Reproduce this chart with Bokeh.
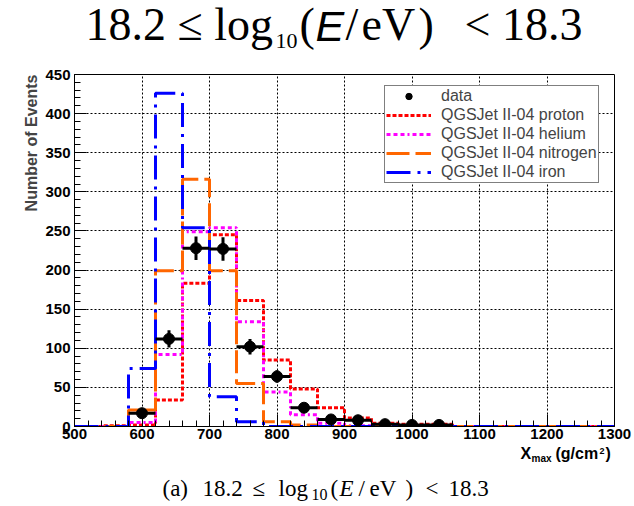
from bokeh.plotting import figure
from bokeh.layouts import column
from bokeh.models import Range1d, SingleIntervalTicker, Label, Legend, LegendItem, Title
from bokeh.embed import file_html
from bokeh.resources import INLINE

# Xmax histograms, 20 bins of 40 g/cm^2 between 500 and 1300
bin_edges = list(range(500, 1301, 40))

proton = [0, 1, 2, 34, 183, 245, 161, 85, 48, 24, 11, 4, 3, 3, 0, 0, 0, 0, 0, 0]
helium = [0, 0, 5, 92, 249, 254, 134, 44, 15, 4, 1, 1, 0, 0, 0, 0, 0, 0, 0, 0]
nitrogen = [0, 0, 21, 199, 316, 199, 55, 6, 2, 0, 0, 0, 0, 0, 0, 0, 0, 0, 0, 0]
iron = [0, 0, 74, 426, 254, 38, 6, 0, 0, 0, 0, 0, 0, 0, 0, 0, 0, 0, 0, 0]

# measured events per bin
data_x = [600, 640, 680, 720, 760, 800, 840, 880, 920, 960, 1000, 1040]
data_y = [17, 112, 228, 227, 102, 64, 24, 9, 8, 3, 2, 2]
data_err = [4, 11, 15, 15, 10, 8, 5, 3, 3, 2, 1, 1]
half_bin = 20

x_ticks = [500, 600, 700, 800, 900, 1000, 1100, 1200, 1300]
y_ticks = [0, 50, 100, 150, 200, 250, 300, 350, 400, 450]

W, H = 634, 506
TOP_H = 62          # heading strip
BOT_H = 60          # x-axis title + caption strip
MAIN_H = H - TOP_H - BOT_H
FRAME_L, FRAME_R, FRAME_T, FRAME_B = 74, 614, 74, 426
RAISE = 0.36        # baseline correction, in em


def text_strip(height):
    # same side borders as the main plot so the frames line up column-wise
    f = figure(width=W, height=height, output_backend="svg", toolbar_location=None,
               x_axis_type=None, y_axis_type=None,
               x_range=Range1d(0, 1), y_range=Range1d(0, 1),
               min_border_left=FRAME_L, min_border_right=W - FRAME_R,
               min_border_top=0, min_border_bottom=0, outline_line_color=None)
    f.background_fill_color = "white"
    f.border_fill_color = "white"
    return f


top = text_strip(TOP_H)
bottom = text_strip(BOT_H)


def put(f, top_px, text, px, py, size, font="Liberation Serif", style="normal"):
    """Place text with its baseline at page pixel (px, py) inside strip f starting at top_px."""
    f.add_layout(Label(x=px - FRAME_L, y=f.height - (py - top_px) + RAISE * size,
                       x_units="screen", y_units="screen",
                       text=text, text_font=font, text_font_style=style,
                       text_font_size=f"{size}px", text_align="left",
                       text_baseline="alphabetic", text_color="black"))


# main plot
p = figure(width=W, height=MAIN_H, output_backend="svg", toolbar_location=None,
           x_range=Range1d(x_ticks[0], x_ticks[-1]), y_range=Range1d(y_ticks[0], y_ticks[-1]),
           min_border_left=FRAME_L, min_border_right=W - FRAME_R,
           min_border_top=FRAME_T - TOP_H, min_border_bottom=TOP_H + MAIN_H - FRAME_B)
p.background_fill_color = "white"
p.border_fill_color = "white"
p.outline_line_color = "black"
p.outline_line_width = 1

p.xaxis.ticker = SingleIntervalTicker(interval=100, num_minor_ticks=5)
p.yaxis.ticker = SingleIntervalTicker(interval=50, num_minor_ticks=5)
for ax in (p.xaxis, p.yaxis):
    ax.axis_line_color = "black"
    ax.major_tick_line_color = "black"
    ax.minor_tick_line_color = "black"
    ax.major_tick_out = 0
    ax.minor_tick_out = 0
    ax.major_tick_in = 12
    ax.minor_tick_in = 6
    ax.major_label_text_font = "Liberation Sans"
    ax.major_label_text_font_style = "bold"
    ax.major_label_text_font_size = "15px"
    ax.major_label_text_color = "black"
p.xaxis.major_label_standoff = 2
p.yaxis.major_label_standoff = 4

for g in (p.xgrid, p.ygrid):
    g.grid_line_color = "black"
    g.grid_line_dash = "2 2"
    g.grid_line_width = 1

# y-axis title, pinned to the top end of the axis
p.add_layout(Title(text="Number of Events", align="right", text_font="Liberation Sans",
                   text_font_style="bold", text_font_size="16px", standoff=5), "left")


# step outlines of the simulated distributions
def step_line(values, color, dash):
    return p.step(x=bin_edges, y=values + [values[-1]], mode="after",
                  line_color=color, line_width=3, line_dash=dash)


r_p = step_line(proton, "#ff0000", "4 2")
r_he = step_line(helium, "#ff00ff", "4 3 4 3 4 3 2 3")
r_n = step_line(nitrogen, "#ff6600", "23 6")
r_fe = step_line(iron, "#0000ff", "24 7 3 7")

# data with error bars
p.segment(x0=[x - half_bin for x in data_x], y0=data_y,
          x1=[x + half_bin for x in data_x], y1=data_y, line_color="black", line_width=3)
p.segment(x0=data_x, y0=[y - e for y, e in zip(data_y, data_err)],
          x1=data_x, y1=[y + e for y, e in zip(data_y, data_err)], line_color="black", line_width=3)
r_data = p.scatter(data_x, data_y, size=11, fill_color="black", line_color="black")

legend = Legend(items=[
    LegendItem(label="data", renderers=[r_data]),
    LegendItem(label="QGSJet II-04 proton", renderers=[r_p]),
    LegendItem(label="QGSJet II-04 helium", renderers=[r_he]),
    LegendItem(label="QGSJet II-04 nitrogen", renderers=[r_n]),
    LegendItem(label="QGSJet II-04 iron", renderers=[r_fe]),
], location=(384 - FRAME_L, FRAME_B - 183))
legend.label_text_font = "Liberation Sans"
legend.label_text_font_size = "16px"
legend.label_height = 16
legend.glyph_height = 16
legend.glyph_width = 45
legend.spacing = 1
legend.padding = 1
legend.margin = 0
legend.label_standoff = 10
legend.border_line_color = "black"
legend.border_line_width = 1
legend.background_fill_alpha = 1
p.add_layout(legend, "center")

# heading
for text, x, y, size, font, style in [
    ("18.2 \u2264 log", 85, 41, 46, "Liberation Serif", "normal"),
    ("10", 275, 48, 22, "Liberation Serif", "normal"),
    ("(", 299, 41, 46, "Liberation Serif", "normal"),
    ("E", 315, 41, 43, "Liberation Sans", "italic"),
    ("/", 345, 41, 46, "Liberation Serif", "normal"),
    ("eV", 361, 41, 46, "Liberation Serif", "normal"),
    (")", 418, 41, 46, "Liberation Serif", "normal"),
    ("< 18.3", 464, 41, 46, "Liberation Serif", "normal"),
]:
    put(top, 0, text, x, y, size, font, style)

B0 = TOP_H + MAIN_H
# x-axis title
for text, x, y, size in [
    ("X", 520, 459, 16),
    ("max", 531, 462, 10),
    ("(g/cm", 555, 459, 16),
    ("2", 599, 454, 9),
    (")", 605, 459, 16),
]:
    put(bottom, B0, text, x, y, size, "Liberation Sans", "bold")

# caption
for text, x, y, size, style in [
    ("(a)", 162, 496, 23, "normal"),
    ("18.2", 202, 496, 23, "normal"),
    ("\u2264", 252, 496, 23, "normal"),
    ("log", 278, 496, 23, "normal"),
    ("10", 311, 500, 16, "normal"),
    ("(", 330, 496, 23, "normal"),
    ("E", 339, 496, 23, "italic"),
    ("/", 358, 496, 23, "normal"),
    ("eV", 369, 496, 23, "normal"),
    (")", 405, 496, 23, "normal"),
    ("<", 425, 496, 23, "normal"),
    ("18.3", 448, 496, 23, "normal"),
]:
    put(bottom, B0, text, x, y, size, "Liberation Serif", style)

page = column(top, p, bottom, spacing=0)
open("out.html", "w").write(file_html(page, INLINE))
